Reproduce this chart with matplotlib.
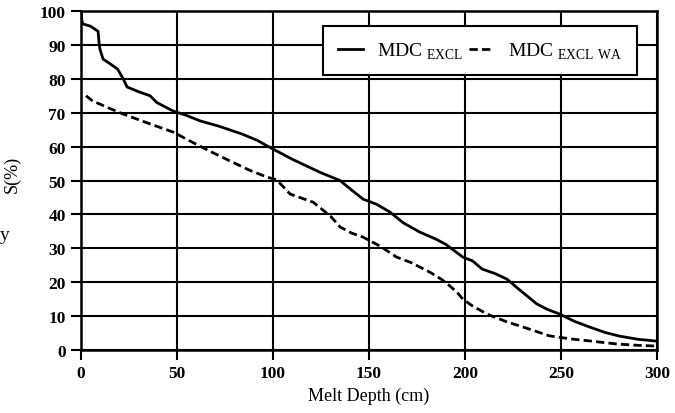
import numpy as np
import matplotlib.pyplot as plt

plt.rcParams['font.family'] = ['Liberation Serif', 'DejaVu Serif']
plt.rcParams['mathtext.fontset'] = 'custom'
plt.rcParams['mathtext.rm'] = 'Liberation Serif'

# MDC EXCL (solid)
excl_x = [0, 0.5, 1, 5, 8.9, 9.5, 10, 11.5, 15, 19, 22, 24, 30, 36, 39.5, 48, 55, 62, 72, 84, 92, 97,
          110, 125, 135, 141, 147, 154, 161, 168, 176.5, 185, 190, 199, 204, 209, 216, 222, 228,
          237.5, 243, 249.5, 257, 265, 273, 280.7, 290, 299]
excl_y = [100, 97, 96.2, 95.5, 94, 90, 88.5, 85.8, 84.5, 82.9, 80, 77.6, 76.2, 75, 73, 70.5, 69.2, 67.6,
          66, 63.7, 61.8, 60.2, 56.3, 52.3, 50, 47.2, 44.5, 43, 40.7, 37.5, 34.8, 32.7, 31.2, 27.4,
          26.3, 23.9, 22.5, 20.9, 18, 13.6, 12, 10.6, 8.5, 6.8, 5.2, 4.1, 3.2, 2.7]

# MDC EXCL WA (dashed)
wa_x = [2.6, 6, 14, 22, 36, 48, 58, 68, 79, 88, 97, 102, 105, 109, 115, 121, 130, 135, 141, 147,
        156, 164.5, 172, 182, 188, 192, 196, 199, 204, 212, 222, 233, 244, 255, 265, 279, 290, 299]
wa_y = [75, 73.5, 71.5, 69.6, 66.7, 64.3, 61.3, 58.4, 55.4, 53, 51, 50.2, 48.4, 46, 44.8, 43.6, 39.5,
        36.3, 34.5, 33.3, 30.6, 27.4, 25.8, 22.9, 20.8, 19, 17, 15, 13, 10.5, 8.3, 6.3, 4.2, 3.3,
        2.7, 1.8, 1.4, 1.2]

x_ticks = [0, 50, 100, 150, 200, 250, 300]
y_ticks = [0, 10, 20, 30, 40, 50, 60, 70, 80, 90, 100]

fig = plt.figure(figsize=(6.75, 4.14), dpi=100)
ax = fig.add_axes([0.12, 0.152, 0.853, 0.819])

ax.plot(excl_x, excl_y, color='black', lw=2, label=r'MDC $_{\rm EXCL}$')
ax.plot(wa_x, wa_y, color='black', lw=2, ls=(0, (3, 1.5)), label=r'MDC $_{\rm EXCL\ WA}$')

ax.set_xlim(0, 300)
ax.set_ylim(0, 100)
ax.set_xticks(x_ticks)
ax.set_yticks(y_ticks)
ax.grid(True, color='black', lw=1.5)
for s in ax.spines.values():
    s.set_linewidth(1.8)
ax.tick_params(direction='out', length=7, width=1.5, labelsize=12.5, pad=4)
for lab in ax.get_xticklabels() + ax.get_yticklabels():
    lab.set_fontweight('bold')

ax.set_xlabel('Melt Depth (cm)', fontsize=13, labelpad=4)
ax.set_ylabel('S(%)', fontsize=13)
ax.yaxis.set_label_coords(-0.105, 0.52)
fig.text(0.0, 0.43, 'y', fontsize=14, ha='left', va='center')

leg = ax.legend(loc='upper right', ncol=2, fontsize=14, frameon=True, fancybox=False,
                edgecolor='black', framealpha=1, handlelength=1.3, columnspacing=0.3,
                handletextpad=0.7, borderpad=0.75, borderaxespad=0.0,
                bbox_to_anchor=(0.965, 0.956))
leg.get_frame().set_linewidth(1.5)

fig.savefig('out.png', dpi=100)
